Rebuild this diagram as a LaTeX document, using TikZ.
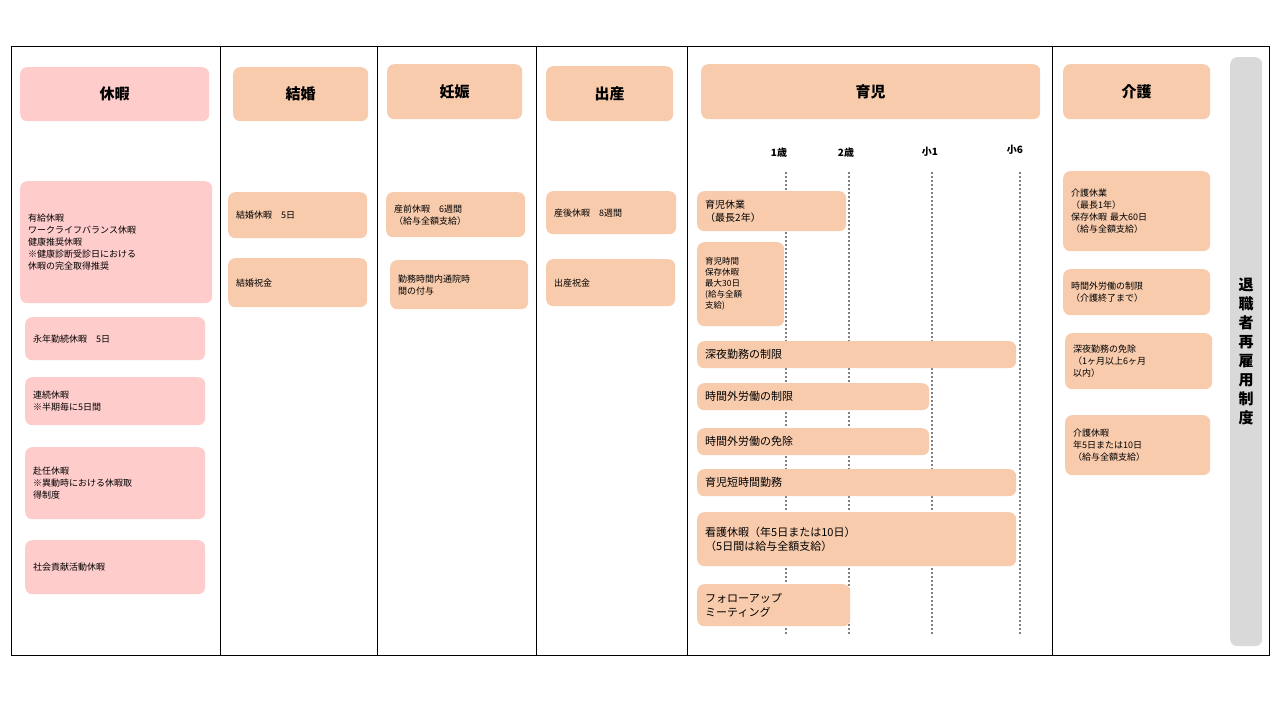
\documentclass[tikz,border=0pt]{standalone}
\usepackage{fontspec}
\setmainfont{Noto Sans CJK JP}
\usetikzlibrary{positioning}
\definecolor{pinkfill}{HTML}{FFCCCC}
\definecolor{orangefill}{HTML}{F8CBAD}
\definecolor{barfill}{HTML}{D9D9D9}
\tikzset{
pinkbox/.style={fill=pinkfill, rounded corners=7pt, inner xsep=8pt, align=left, font=\fontsize{9}{12}\selectfont}, % pink entries
orangebox/.style={fill=orangefill, rounded corners=7pt, inner xsep=8pt, align=left, font=\fontsize{9}{12}\selectfont}, % orange entries
headbox/.style={rounded corners=7pt, font=\fontsize{15}{18}\selectfont\bfseries}, % column titles
agemark/.style={font=\fontsize{10}{12}\selectfont\bfseries}, % ages on top of the timeline
ageline/.style={gray, line width=1.6pt, dash pattern=on 1.6pt off 2.4pt}, % dotted guide lines
}
% name, style, x1, y1, x2, y2, text
\newcommand{\entry}[7]{%
  \pgfmathsetmacro\tw{#5-#3-16}%
  \node[#2, anchor=north west, minimum width={#5-#3}, minimum height={#6-#4}, text width=\tw pt] (#1) at (#3,#4) {#7};}
\begin{document}
\begin{tikzpicture}[x=1pt, y=-1pt]
\useasboundingbox[fill=white] (0,0) rectangle (1280,720);
\draw (11,46) rectangle (1269,655);
\foreach \xx in {220,377,536,687,1052}
  \draw (\xx,46) -- (\xx,655);

% headers
\node[headbox, fill=pinkfill, anchor=north west, minimum width=189, minimum height=54] (kyuka) at (20,67) {休暇};
\node[headbox, fill=orangefill, anchor=north west, minimum width=135, minimum height=54] (kekkon) at (233,67) {結婚};
\node[headbox, fill=orangefill, anchor=north west, minimum width=135, minimum height=55] (ninshin) at (387,64) {妊娠};
\node[headbox, fill=orangefill, anchor=north west, minimum width=127, minimum height=55] (shussan) at (546,66) {出産};
\node[headbox, fill=orangefill, anchor=north west, minimum width=339, minimum height=55] (ikuji) at (701,64) {育児};
\node[headbox, fill=orangefill, anchor=north west, minimum width=147, minimum height=55] (kaigo) at (1063,64) {介護};
\node[headbox, fill=barfill, anchor=north west, minimum width=32, minimum height=589, align=center, font=\fontsize{15}{19}\selectfont\bfseries] (saikoyo) at (1230,57) {退\\職\\者\\再\\雇\\用\\制\\度};

% timeline
\node[agemark] (age1) at (779,153) {1歳};
\node[agemark] (age2) at (846,153) {2歳};
\node[agemark] (sho1) at (930,152) {小1};
\node[agemark] (sho6) at (1015,150) {小6};
\coordinate (end1) at (786,635);
\coordinate (end2) at (849,635);
\coordinate (end3) at (932,635);
\coordinate (end4) at (1020,635);
\draw[ageline] (786,172) -- (end1);
\draw[ageline] (849,172) -- (end2);
\draw[ageline] (932,172) -- (end3);
\draw[ageline] (1020,172) -- (end4);

% 休暇
\entry{kyuka1}{pinkbox}{20}{181}{212}{303}{有給休暇\\ワークライフバランス休暇\\健康推奨休暇\\※健康診断受診日における\\休暇の完全取得推奨}
\entry{kyuka2}{pinkbox}{25}{317}{205}{360}{永年勤続休暇　5日}
\entry{kyuka3}{pinkbox}{25}{377}{205}{425}{連続休暇\\※半期毎に5日間}
\entry{kyuka4}{pinkbox}{25}{447}{205}{519}{赴任休暇\\※異動時における休暇取\\得制度}
\entry{kyuka5}{pinkbox}{25}{540}{205}{594}{社会貢献活動休暇}

% 結婚
\entry{kekkon1}{orangebox}{228}{192}{367}{238}{結婚休暇　5日}
\entry{kekkon2}{orangebox}{228}{258}{367}{307}{結婚祝金}

% 妊娠
\entry{ninshin1}{orangebox}{386}{192}{525}{237}{産前休暇　6週間\\（給与全額支給）}
\entry{ninshin2}{orangebox}{390}{260}{528}{309}{勤務時間内通院時\\間の付与}

% 出産
\entry{shussan1}{orangebox}{546}{191}{676}{234}{産後休暇　8週間}
\entry{shussan2}{orangebox}{546}{259}{675}{306}{出産祝金}

% 育児
\entry{ikuji1}{orangebox, font=\fontsize{10}{13}\selectfont}{697}{191}{846}{231}{育児休業\\（最長2年）}
\entry{ikuji2}{orangebox, inner xsep=6pt, font=\fontsize{8.5}{11}\selectfont}{697}{242}{784}{326}{育児時間\\保存休暇\\最大30日\\(給与全額\\支給)}
\entry{ikuji3}{orangebox, font=\fontsize{11}{14}\selectfont}{697}{341}{1016}{368}{深夜勤務の制限}
\entry{ikuji4}{orangebox, font=\fontsize{11}{14}\selectfont}{697}{383}{929}{410}{時間外労働の制限}
\entry{ikuji5}{orangebox, font=\fontsize{11}{14}\selectfont}{697}{428}{929}{455}{時間外労働の免除}
\entry{ikuji6}{orangebox, font=\fontsize{11}{14}\selectfont}{697}{469}{1016}{496}{育児短時間勤務}
\entry{ikuji7}{orangebox, font=\fontsize{11}{14}\selectfont}{697}{512}{1016}{566}{看護休暇（年5日または10日）\\（5日間は給与全額支給）}
\entry{ikuji8}{orangebox, font=\fontsize{11}{14}\selectfont}{697}{584}{850}{626}{フォローアップ\\ミーティング}

% 介護
\entry{kaigo1}{orangebox}{1063}{171}{1210}{251}{介護休業\\（最長1年）\\保存休暇 最大60日\\（給与全額支給）}
\entry{kaigo2}{orangebox}{1063}{269}{1210}{315}{時間外労働の制限\\（介護終了まで）}
\entry{kaigo3}{orangebox}{1065}{333}{1212}{389}{深夜勤務の免除\\（1ヶ月以上6ヶ月\\以内）}
\entry{kaigo4}{orangebox}{1065}{415}{1210}{475}{介護休暇\\年5日または10日\\（給与全額支給）}
\end{tikzpicture}
\end{document}
